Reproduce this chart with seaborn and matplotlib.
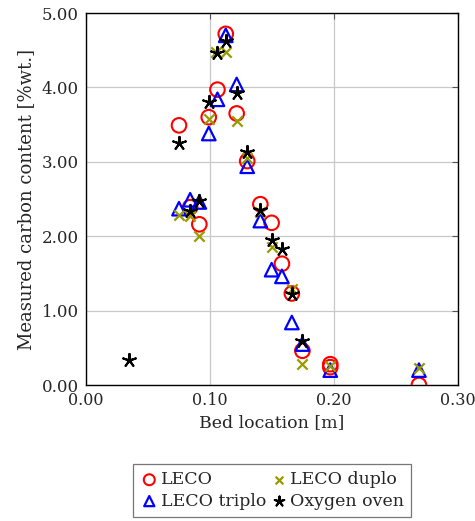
import numpy as np
import pandas as pd
import matplotlib
matplotlib.use("Agg")
import matplotlib.pyplot as plt
import seaborn as sns

# Bed location [m] and carbon content [%wt.] per measurement method
leco_x = [0.075, 0.099, 0.106, 0.1127, 0.1215, 0.130, 0.084, 0.0914, 0.1406, 0.1497,
          0.158, 0.166, 0.1745, 0.197, 0.197, 0.2685]
leco_y = [3.49, 3.60, 3.97, 4.72, 3.65, 3.01, 2.39, 2.16, 2.43, 2.18,
          1.63, 1.23, 0.46, 0.28, 0.24, 0.00]

duplo_x = [0.105, 0.1127, 0.099, 0.1215, 0.130, 0.075, 0.084, 0.0914, 0.1406, 0.1497,
           0.166, 0.1745, 0.197, 0.2685]
duplo_y = [4.47, 4.47, 3.58, 3.55, 3.05, 2.29, 2.27, 2.00, 2.33, 1.85,
           1.29, 0.28, 0.26, 0.23]

triplo_x = [0.1127, 0.106, 0.099, 0.1215, 0.130, 0.075, 0.084, 0.0914, 0.1406, 0.1497,
            0.158, 0.166, 0.1745, 0.197, 0.2685]
triplo_y = [4.70, 3.84, 3.38, 4.04, 2.94, 2.37, 2.49, 2.46, 2.21, 1.55,
            1.46, 0.84, 0.55, 0.20, 0.20]

oven_x = [0.0344, 0.075, 0.099, 0.106, 0.1127, 0.1215, 0.130, 0.084, 0.0914, 0.1406,
          0.1497, 0.158, 0.166, 0.1745]
oven_y = [0.33, 3.25, 3.81, 4.46, 4.63, 3.92, 3.13, 2.34, 2.47, 2.35,
          1.95, 1.83, 1.22, 0.59]

x_ticks = [0.00, 0.10, 0.20, 0.30]
y_ticks = [0.00, 1.00, 2.00, 3.00, 4.00, 5.00]

sns.set_style("white")
plt.rcParams["font.family"] = ["DejaVu Serif"]
plt.rcParams["mathtext.fontset"] = "dejavuserif"

fig = plt.figure(figsize=(4.75, 5.21), dpi=100)
ax = fig.add_axes([86 / 475, 1 - 385 / 521, (458 - 86) / 475, (385 - 13) / 521])

series = [
    ("LECO", leco_x, leco_y, dict(marker="o", s=110, facecolors="none",
                                  edgecolors="#ff0000", linewidths=1.5)),
    ("LECO triplo", triplo_x, triplo_y, dict(marker="^", s=95, facecolors="none",
                                            edgecolors="#0000ff", linewidths=1.6)),
    ("LECO duplo", duplo_x, duplo_y, dict(marker="x", s=55, color="#999900",
                                          linewidths=1.6)),
    ("Oxygen oven", oven_x, oven_y, dict(marker=(5, 2, 0), s=90, color="black",
                                         linewidths=1.5)),
]

for name, xs, ys, kw in series:
    df = pd.DataFrame({"Bed location": xs, "Carbon": ys})
    sns.scatterplot(data=df, x="Bed location", y="Carbon", ax=ax, label=name,
                    zorder=3, **kw)

ax.set_xlim(0, 0.30)
ax.set_ylim(0, 5.0)
ax.set_xticks(x_ticks)
ax.set_yticks(y_ticks)
ax.set_xticklabels([f"{v:.2f}" for v in x_ticks])
ax.set_yticklabels([f"{v:.2f}" for v in y_ticks])
ax.grid(True, color="#c8c8c8", linewidth=0.9)
ax.set_axisbelow(True)
ax.tick_params(direction="in", length=4, top=True, right=True, labelsize=12,
               color="#555555", pad=5)
ax.tick_params(axis="x", labelsize=11.5)
for sp in ax.spines.values():
    sp.set_color("black")
    sp.set_linewidth(1.0)

ax.set_xlabel("Bed location [m]", fontsize=12.5, labelpad=4)
ax.set_ylabel("Measured carbon content [%wt.]", fontsize=13, labelpad=5)

leg = ax.legend(loc="upper center", bbox_to_anchor=(0.5, -0.19), ncol=2,
                frameon=True, fancybox=False, edgecolor="#555555", fontsize=12.5,
                markerscale=0.75, handletextpad=0.1, columnspacing=0.2,
                borderpad=0.4, labelspacing=0.25, handlelength=1.1)
leg.get_frame().set_linewidth(0.9)

fig.savefig("out.png", dpi=100)
